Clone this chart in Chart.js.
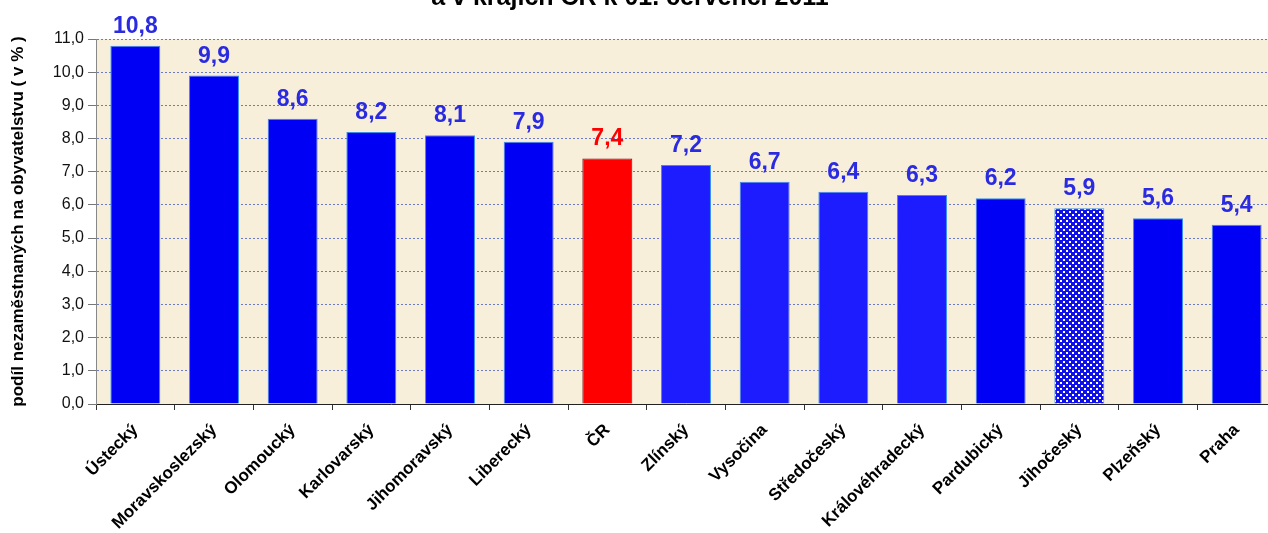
<!DOCTYPE html>
<html>
<head>
<meta charset="utf-8">
<script src="https://cdn.jsdelivr.net/npm/chart.js@4/dist/chart.umd.min.js"></script>
<style>
  html, body { margin: 0; padding: 0; background: #fff; overflow: hidden; }
  #wrap { width: 1290px; height: 533px; position: relative; }
</style>
</head>
<body>
<div id="wrap"><canvas id="chart"></canvas></div>
<script>
const regions = ["Ústecký", "Moravskoslezský", "Olomoucký", "Karlovarský", "Jihomoravský", "Liberecký", "ČR",
    "Zlínský", "Vysočina", "Středočeský", "Královéhradecký", "Pardubický", "Jihočeský", "Plzeňský", "Praha"]
const rates = [10.8, 9.9, 8.6, 8.2, 8.1, 7.9, 7.4, 7.2, 6.7, 6.4, 6.3, 6.2, 5.9, 5.6, 5.4]
const yTicks = [0, 1, 2, 3, 4, 5, 6, 7, 8, 9, 10, 11]
const chartTitle = "a v krajích ČR k 01. červenci 2011"
const yTitle = "podíl nezaměstnaných na obyvatelstvu ( v % )"

const FONT = "'Liberation Sans', Arial, sans-serif"
const fmt = v => v.toFixed(1).replace(".", ",")

// dotted fill for Jihočeský
function dotPattern(){
    const c = document.createElement("canvas")
    c.width = 6
    c.height = 6
    const g = c.getContext("2d")
    g.fillStyle = "#1010e8"
    g.fillRect(0, 0, 6, 6)
    g.fillStyle = "#ffffff"
    g.fillRect(1, 1, 2, 2)
    g.fillRect(4, 4, 2, 2)
    return g.createPattern(c, "repeat")
}
const pattern = dotPattern()

const fills = regions.map(r => {
    if (r === "ČR") return "#ff0000"
    if (r === "Jihočeský") return pattern
    if (["Zlínský", "Vysočina", "Středočeský", "Královéhradecký"].includes(r)) return "#1c1cff"
    return "#0000f4"
})
const borders = regions.map(r => r === "ČR" ? "#7a1010" : "#3a8ee8")
const labelColors = regions.map(r => r === "ČR" ? "#ff0000" : "#2a2ae0")

const plotBackground = {
    id: "plotBackground",
    beforeDraw(chart){
        const {ctx, chartArea: a} = chart
        ctx.save()
        ctx.fillStyle = "#f8efdb"
        ctx.fillRect(a.left, a.top, a.right - a.left, a.bottom - a.top)
        ctx.restore()
    }
}

const valueLabels = {
    id: "valueLabels",
    afterDatasetsDraw(chart){
        const ctx = chart.ctx
        const meta = chart.getDatasetMeta(0)
        ctx.save()
        ctx.font = "bold 23px " + FONT
        ctx.textAlign = "center"
        ctx.textBaseline = "alphabetic"
        meta.data.forEach((bar, i) => {
            ctx.fillStyle = labelColors[i]
            ctx.fillText(fmt(rates[i]), bar.x, bar.y - 13)
        })
        ctx.restore()
    }
}

// title sits mostly above the visible area, only its lower part shows
const cutTitle = {
    id: "cutTitle",
    afterDraw(chart){
        const ctx = chart.ctx
        ctx.save()
        ctx.font = "bold 25px " + FONT
        ctx.fillStyle = "#000"
        ctx.textAlign = "center"
        ctx.textBaseline = "alphabetic"
        ctx.fillText(chartTitle, 630, 5)
        ctx.restore()
    }
}

new Chart(document.getElementById("chart"), {
    type: "bar",
    data: {
        labels: regions,
        datasets: [{
            data: rates,
            backgroundColor: fills,
            borderColor: borders,
            borderWidth: 1,
            borderSkipped: "bottom",
            barPercentage: 0.635,
            categoryPercentage: 1
        }]
    },
    options: {
        responsive: true,
        maintainAspectRatio: false,
        animation: false,
        layout: {padding: {top: 39, right: 14, left: 8, bottom: 0}},
        plugins: {
            legend: {display: false},
            tooltip: {enabled: false},
            title: {display: false}
        },
        scales: {
            x: {
                grid: {display: true, drawOnChartArea: false, drawTicks: true, tickLength: 6, tickColor: "#333", offset: true},
                border: {display: true, color: "#222", width: 1},
                ticks: {
                    color: "#000",
                    font: {family: FONT, size: 17, weight: "bold"},
                    minRotation: 45,
                    maxRotation: 45,
                    autoSkip: false,
                    padding: 10
                },
                afterFit(scale){ scale.height = 129 }
            },
            y: {
                min: 0,
                max: 11,
                afterBuildTicks(scale){ scale.ticks = yTicks.map(v => ({value: v})) },
                grid: {color: "#6a7ac4", lineWidth: 1, tickLength: 8, tickColor: "#777", drawTicks: true},
                border: {display: true, color: "#888", dash: [2, 2]},
                ticks: {
                    color: "#111",
                    font: {family: FONT, size: 16},
                    padding: 4,
                    callback: v => fmt(v)
                },
                title: {
                    display: true,
                    text: yTitle,
                    color: "#000",
                    font: {family: FONT, size: 17, weight: "bold"},
                    padding: {top: 0, bottom: 6}
                },
                afterFit(scale){ scale.width = 88 }
            }
        }
    },
    plugins: [plotBackground, valueLabels, cutTitle]
})
</script>
</body>
</html>
